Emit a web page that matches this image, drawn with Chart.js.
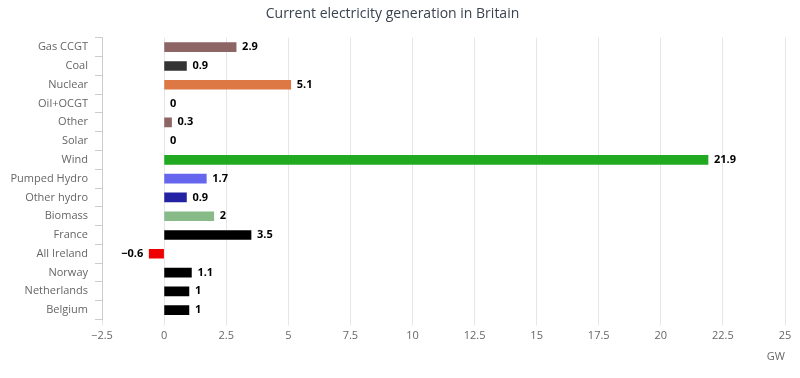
<!DOCTYPE html>
<html>
<head>
<meta charset="utf-8">
<script src="https://cdn.jsdelivr.net/npm/chart.js@4"></script>
<style>
  body { margin: 0; background: #fff; }
  #wrap { width: 800px; height: 378px; }
</style>
</head>
<body>
<div id="wrap"><canvas id="myChart" width="800" height="378"></canvas></div>
<script>
// values (GW)
var sources = ['Gas CCGT', 'Coal', 'Nuclear', 'Oil+OCGT', 'Other', 'Solar', 'Wind',
	'Pumped Hydro', 'Other hydro', 'Biomass', 'France', 'All Ireland', 'Norway', 'Netherlands', 'Belgium'];
var generation = [2.9, 0.9, 5.1, 0, 0.3, 0, 21.9, 1.7, 0.9, 2, 3.5, -0.6, 1.1, 1, 1];
var barColors = ['#8d6565', '#333333', '#dd7744', '#000000', '#8d6565', '#ffcc00', '#22a922',
	'#6565ee', '#2222a2', '#88bb88', '#000000', '#ee0000', '#000000', '#000000', '#000000'];
var xTicks = [-2.5, 0, 2.5, 5, 7.5, 10, 12.5, 15, 17.5, 20, 22.5, 25];

var FONT = '"Open Sans", "Noto Sans", sans-serif';

// draws the bold value next to each bar
var valueLabels = {
	id: 'valueLabels',
	afterDatasetsDraw(chart) {
		var ctx = chart.ctx;
		var meta = chart.getDatasetMeta(0);
		ctx.save();
		ctx.font = 'bold 11px ' + FONT;
		ctx.fillStyle = '#000';
		ctx.textBaseline = 'middle';
		meta.data.forEach(function(bar, i) {
			var v = generation[i];
			if (v < 0) {
				ctx.textAlign = 'right';
				ctx.fillText(String(v).replace('-', '\u2212'), bar.x - 6, bar.y);
			} else {
				ctx.textAlign = 'left';
				ctx.fillText(String(v), bar.x + 6, bar.y);
			}
		});
		ctx.restore();
	}
};

var myChart = new Chart(document.getElementById('myChart'), {
	type: 'bar',
	data: {
		labels: sources,
		datasets: [{
			label: 'GW',
			data: generation,
			// zero values get no visible sliver
			backgroundColor: c => c.raw === 0 ? 'rgba(0,0,0,0)' : barColors[c.dataIndex],
			borderWidth: 0,
			barThickness: 9
		}]
	},
	options: {
		indexAxis: 'y',
		responsive: false,
		animation: false,
		maintainAspectRatio: false,
		layout: { padding: { top: 6, right: 15, left: 0, bottom: 0 } },
		plugins: {
			legend: { display: false },
			tooltip: { enabled: false },
			title: {
				display: true,
				text: 'Current electricity generation in Britain',
				color: '#3a4350',
				font: { family: FONT, size: 14, weight: 'normal' },
				padding: { top: 0, bottom: 15 }
			}
		},
		scales: {
			x: {
				type: 'linear',
				min: -2.5,
				max: 25,
				afterBuildTicks(scale) {
					scale.ticks = xTicks.map(v => ({ value: v }));
				},
				afterFit(scale) { scale.height = 58.5; },
				grid: { color: '#e6e6e6', tickLength: 6 },
				border: { display: false },
				ticks: {
					color: '#666',
					padding: 4,
					maxRotation: 0,
					font: { family: FONT, size: 11 },
					callback: v => String(v).replace('-', '\u2212')
				},
				title: {
					display: true,
					text: 'GW',
					align: 'end',
					color: '#666',
					font: { family: FONT, size: 11 },
					padding: { top: 4, bottom: 15 }
				}
			},
			y: {
				afterFit(scale) { scale.width = 102; },
				grid: { offset: true, drawOnChartArea: false, color: '#cccccc', tickLength: 7 },
				border: { display: true, color: '#cccccc' },
				ticks: {
					color: '#666',
					padding: 7,
					font: { family: FONT, size: 11 }
				}
			}
		}
	},
	plugins: [valueLabels]
});
</script>
</body>
</html>
